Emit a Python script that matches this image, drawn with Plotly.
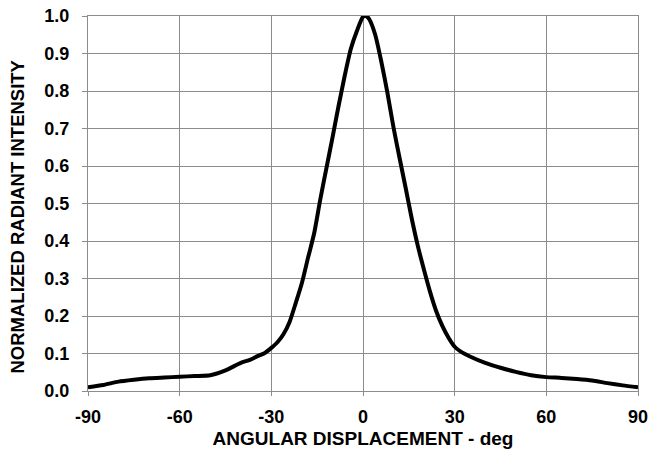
import plotly.graph_objects as go

angle_deg = [-90, -85, -80, -75, -70, -65, -60, -55, -50, -45, -40, -37, -35, -32, -30,
             -28, -26, -24, -22, -20, -18, -16, -14, -12, -10, -8, -6, -4, -2, 0, 1, 2,
             4, 6, 8, 10, 12, 14, 16, 18, 20, 22, 24, 26, 28, 30, 32, 35, 40, 45, 50,
             55, 60, 65, 70, 75, 80, 85, 90]
intensity = [0.010, 0.016, 0.025, 0.030, 0.034, 0.036, 0.038, 0.040, 0.042, 0.055, 0.075,
             0.083, 0.091, 0.102, 0.115, 0.130, 0.152, 0.185, 0.235, 0.288, 0.355, 0.420,
             0.510, 0.593, 0.675, 0.760, 0.840, 0.912, 0.960, 0.998, 1.000, 0.992,
             0.950, 0.878, 0.795, 0.702, 0.620, 0.540, 0.458, 0.385, 0.322, 0.263, 0.212,
             0.173, 0.142, 0.118, 0.105, 0.092, 0.075, 0.062, 0.051, 0.042, 0.037, 0.035,
             0.032, 0.028, 0.021, 0.015, 0.010]

x_ticks = [-90, -60, -30, 0, 30, 60, 90]
y_ticks = [0.0, 0.1, 0.2, 0.3, 0.4, 0.5, 0.6, 0.7, 0.8, 0.9, 1.0]
y_labels = [f"{v:.1f}" for v in y_ticks]
x_title = "ANGULAR DISPLACEMENT - deg"
y_title = "NORMALIZED RADIANT INTENSITY"

GRID = "#8c8c8c"
FONT = "Liberation Sans, Arial, sans-serif"

fig = go.Figure()
fig.add_trace(go.Scatter(x=angle_deg, y=intensity, mode="lines",
                         line=dict(color="black", width=4, shape="spline", smoothing=0.6),
                         hoverinfo="skip"))

fig.update_layout(
    width=669, height=449,
    margin=dict(l=88, r=31, t=16, b=58, autoexpand=False),
    paper_bgcolor="white", plot_bgcolor="white",
    showlegend=False,
    font=dict(family=FONT, size=18, color="black", weight="bold"),
)
fig.update_xaxes(
    range=[-90, 90], tickvals=x_ticks, ticktext=[str(v) for v in x_ticks],
    showgrid=True, gridcolor=GRID, gridwidth=1,
    showline=True, linecolor=GRID, linewidth=1, mirror=True,
    ticks="outside", ticklen=4, tickcolor=GRID,
    zeroline=False, automargin=False, ticklabelstandoff=5,
    tickfont=dict(family=FONT, size=18, color="black", weight="bold"),
    title=dict(text=x_title,
               font=dict(family=FONT, size=19, color="black", weight="bold"), standoff=6),
)
fig.update_yaxes(
    range=[0, 1.0], tickvals=y_ticks, ticktext=y_labels,
    showgrid=True, gridcolor=GRID, gridwidth=1,
    showline=True, linecolor=GRID, linewidth=1, mirror=True,
    ticks="outside", ticklen=5, tickcolor=GRID,
    zeroline=False, automargin=False, ticklabelstandoff=9,
    tickfont=dict(family=FONT, size=18, color="black", weight="bold"),
)
fig.add_annotation(
    text=y_title, xref="paper", yref="paper", x=0, y=0.4653,
    xanchor="center", yanchor="middle", xshift=-70, textangle=-90,
    showarrow=False,
    font=dict(family=FONT, size=18.5, color="black", weight="bold"),
)

fig.write_html("out.html", config={"displayModeBar": False},
               post_script="document.body.style.margin='0';document.body.style.padding='0';")
